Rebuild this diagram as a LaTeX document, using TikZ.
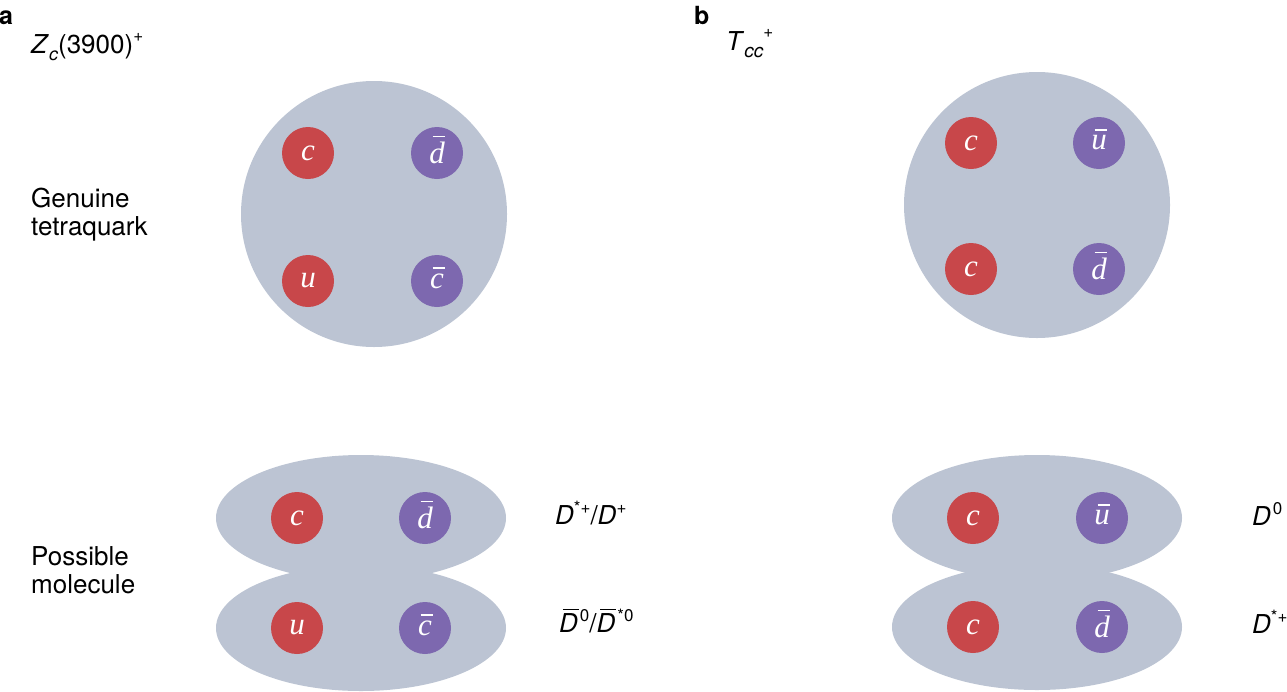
\documentclass[tikz,border=0pt]{standalone}
\usepackage{fontspec}
\setmainfont{TeX Gyre Heros}
\newfontfamily\qfont{Liberation Serif}
\usetikzlibrary{shapes.geometric}
\definecolor{shell}{HTML}{BCC4D3}
\definecolor{qred}{HTML}{C8474A}
\definecolor{qpurple}{HTML}{7D68AF}
\newcommand\qb[1]{\setbox0\hbox{#1}\rlap{\hbox to \wd0{\hss\kern0.12em\smash{\rule[\dimexpr\ht0+0.16em\relax]{0.40em}{0.045em}}\hss}}\box0}
\newcommand\Dbar{\setbox0\hbox{\textit{D}}\rlap{\kern0.14em\smash{\rule[\dimexpr\ht0+0.10em\relax]{0.62em}{0.05em}}}\box0}
\newcommand\sups[1]{\raisebox{0.42em}{\fontsize{17}{17}\selectfont #1}}
\tikzset{
 hadron/.style={circle, fill=shell, inner sep=0pt, minimum size=266pt},
 meson/.style={ellipse, fill=shell, inner sep=0pt, minimum width=290pt, minimum height=126pt},
 quarkbase/.style={circle, inner sep=0pt, minimum size=52pt, text=white, font=\qfont\itshape\fontsize{31}{31}\selectfont},
 quark/.style={quarkbase, fill=qred},
 antiquark/.style={quarkbase, fill=qpurple},
 lbl/.style={anchor=base west, inner sep=0pt, font=\fontsize{26}{28}\selectfont},
 panel/.style={anchor=base west, inner sep=0pt, font=\bfseries\fontsize{25}{25}\selectfont},
}
\begin{document}
\begin{tikzpicture}[x=1pt,y=-1pt]
\path[use as bounding box] (0,0) rectangle (1287,691);
% panel labels
\node[panel] (pa) at (-1,24) {a};
\node[panel] (pb) at (694,24) {b};
\node[lbl] (za) at (31,53) {\textit{Z}\raisebox{-0.28em}{\fontsize{18}{18}\selectfont\textit{c}}(3900)\raisebox{0.45em}{\fontsize{17}{17}\selectfont +}};
\node[lbl] (tb) at (726,50) {\textit{T}\raisebox{-0.3em}{\fontsize{19}{19}\selectfont\textit{cc}}\raisebox{0.5em}{\fontsize{17}{17}\selectfont +}};
\node[lbl] (g1) at (31,207) {Genuine};
\node[lbl] (g2) at (31,235) {tetraquark};
\node[lbl] (m1) at (31,565) {Possible};
\node[lbl] (m2) at (31,593) {molecule};
% panel a tetraquark
\node[hadron] (ha) at (374,214) {};
\node[quark] (ha1) at (308,153) {c};
\node[antiquark] (ha2) at (437,153) {\qb{d}};
\node[quark] (ha3) at (308,281) {u};
\node[antiquark] (ha4) at (437,281) {\qb{c}};
% panel a molecule
\node[meson] (ma1) at (361,518) {};
\node[meson] (ma2) at (361,628) {};
\node[quark] (ma11) at (297,518) {c};
\node[antiquark] (ma12) at (425,518) {\qb{d}};
\node[quark] (ma21) at (297,628) {u};
\node[antiquark] (ma22) at (425,628) {\qb{c}};
\node[lbl] (da1) at (555,524) {\textit{D}\sups{*+}/\textit{D}\sups{+}};
\node[lbl] (da2) at (559,632) {\Dbar\kern2pt\sups{0}/\Dbar\kern2pt\sups{*0}};
% panel b tetraquark
\node[hadron] (hb) at (1037,205) {};
\node[quark] (hb1) at (971,143) {c};
\node[antiquark] (hb2) at (1099,143) {\qb{u}};
\node[quark] (hb3) at (971,269) {c};
\node[antiquark] (hb4) at (1099,269) {\qb{d}};
% panel b molecule
\node[meson] (mb1) at (1037,518) {};
\node[meson] (mb2) at (1037,627) {};
\node[quark] (mb11) at (973,518) {c};
\node[antiquark] (mb12) at (1102,518) {\qb{u}};
\node[quark] (mb21) at (973,627) {c};
\node[antiquark] (mb22) at (1102,627) {\qb{d}};
\node[lbl] (db1) at (1252,525) {\textit{D}\kern2pt\sups{0}};
\node[lbl] (db2) at (1252,633) {\textit{D}\sups{*+}};
\end{tikzpicture}
\end{document}
